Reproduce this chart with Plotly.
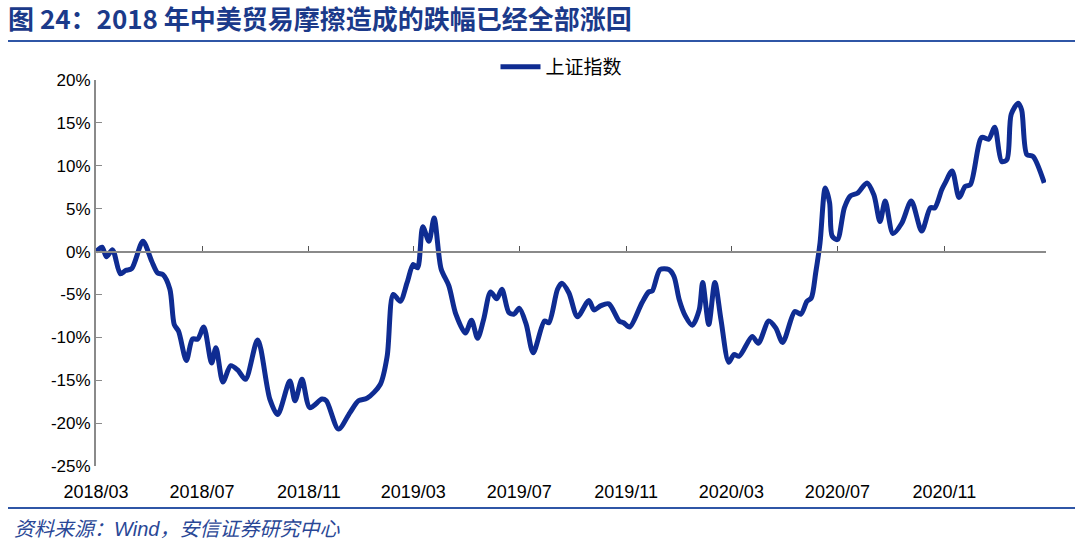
import plotly.graph_objects as go

# ---- data ----
dates = [
    "2018-03-01", "2018-03-08", "2018-03-13", "2018-03-20", "2018-03-29", "2018-04-04",
    "2018-04-11", "2018-04-24", "2018-05-04", "2018-05-11", "2018-05-17", "2018-05-25",
    "2018-05-30", "2018-06-04", "2018-06-13", "2018-06-20", "2018-06-26", "2018-07-03",
    "2018-07-12", "2018-07-17", "2018-07-25", "2018-08-03", "2018-08-11", "2018-08-20",
    "2018-09-03", "2018-09-17", "2018-09-26", "2018-10-10", "2018-10-16", "2018-10-24",
    "2018-11-02", "2018-11-16", "2018-11-21", "2018-12-05", "2018-12-18", "2018-12-28",
    "2019-01-07", "2019-01-22", "2019-01-30", "2019-02-06", "2019-02-14", "2019-02-22",
    "2019-03-01", "2019-03-06", "2019-03-12", "2019-03-19", "2019-03-25", "2019-04-02",
    "2019-04-11", "2019-04-19", "2019-04-30", "2019-05-07", "2019-05-14", "2019-05-21",
    "2019-05-29", "2019-06-05", "2019-06-11", "2019-06-19", "2019-06-25", "2019-07-01",
    "2019-07-09", "2019-07-17", "2019-07-30", "2019-08-04", "2019-08-14", "2019-08-19",
    "2019-08-27", "2019-09-06", "2019-09-19", "2019-09-25", "2019-10-03", "2019-10-12",
    "2019-10-24", "2019-10-29", "2019-11-05", "2019-11-19", "2019-11-27", "2019-12-01",
    "2019-12-10", "2019-12-20", "2019-12-26", "2020-01-01", "2020-01-08", "2020-01-16",
    "2020-01-24", "2020-01-28", "2020-02-04", "2020-02-11", "2020-02-18", "2020-02-27",
    "2020-03-04", "2020-03-10", "2020-03-25", "2020-04-01", "2020-04-13", "2020-04-21",
    "2020-04-29", "2020-05-13", "2020-05-20", "2020-05-27", "2020-06-01", "2020-06-06",
    "2020-06-11", "2020-06-17", "2020-06-22", "2020-06-25", "2020-07-01", "2020-07-09",
    "2020-07-16", "2020-07-24", "2020-08-04", "2020-08-12", "2020-08-19", "2020-08-25",
    "2020-09-03", "2020-09-13", "2020-09-24", "2020-10-06", "2020-10-16", "2020-10-21",
    "2020-10-29", "2020-11-02", "2020-11-10", "2020-11-18", "2020-11-25", "2020-12-01",
    "2020-12-14", "2020-12-22", "2020-12-29", "2021-01-06", "2021-01-12", "2021-01-17",
    "2021-01-25", "2021-01-29", "2021-02-04", "2021-02-11", "2021-02-24",
]
sh_index_pct = [
    0.0, 0.5, -0.6, 0.2, -2.6, -2.2,
    -2.0, 1.2, -1.1, -2.5, -2.7, -4.4,
    -8.5, -9.3, -12.7, -10.2, -10.2, -8.8,
    -13.0, -11.2, -15.2, -13.3, -13.8, -14.9,
    -10.3, -17.2, -19.0, -15.1, -17.4, -14.9,
    -18.2, -17.2, -17.4, -20.7, -18.8, -17.4,
    -17.1, -15.5, -12.2, -5.0, -5.8, -3.6,
    -1.5, -1.9, 2.9, 1.2, 3.9, -2.0,
    -4.0, -7.3, -9.5, -8.0, -10.1, -7.9,
    -4.7, -5.5, -4.4, -7.1, -7.3, -6.6,
    -8.5, -11.8, -8.1, -8.3, -4.4, -3.7,
    -4.8, -7.6, -5.7, -6.8, -6.3, -6.1,
    -8.1, -8.3, -8.8, -6.0, -4.7, -4.6,
    -2.1, -2.1, -2.9, -5.6, -7.5, -8.6,
    -6.8, -3.6, -8.5, -3.6, -7.9, -12.9,
    -12.0, -12.2, -9.9, -10.7, -8.1, -8.9,
    -10.6, -7.0, -7.3, -5.8, -5.4, -2.5,
    1.0, 7.4, 5.7, 1.8, 1.4, 5.1,
    6.5, 6.8, 8.0, 6.6, 3.5, 5.9,
    2.1, 3.3, 5.9, 2.4, 5.1, 5.1,
    7.2, 8.0, 9.4, 6.3, 7.6, 7.8,
    13.3, 13.1, 14.5, 10.5, 10.7, 16.0,
    17.3, 16.5, 11.3, 11.1, 8.0,
]
series_name = "上证指数"
y_tick_vals = [20, 15, 10, 5, 0, -5, -10, -15, -20, -25]
y_tick_labels = ["20%", "15%", "10%", "5%", "0%", "-5%", "-10%", "-15%", "-20%", "-25%"]
x_range = ["2018-03-01", "2021-02-26"]
x_tick_start = "2018-03-01"
title_text = "图 24：2018 年中美贸易摩擦造成的跌幅已经全部涨回"
source_text = "资料来源：<span style='font-family:Liberation Sans'>Wind</span>，安信证券研究中心"

# ---- style ----
LINE_BLUE = "#0f2c92"
AXIS_GRAY = "#8a8a8a"
TITLE_BLUE = "#1b3a8a"
RULE_BLUE = "#2f56a6"
FONT = "Liberation Sans, Arial, Noto Sans CJK SC, sans-serif"
CJK = "Noto Sans CJK SC, Liberation Sans, sans-serif"

W, H = 1080, 548
ML, MR, MT, MB = 96, 34, 80, 82
plot_w = W - ML - MR
plot_h = H - MT - MB
y_min, y_max = -25, 20
zero_pos = (0 - y_min) / (y_max - y_min)

fig = go.Figure()
fig.add_trace(go.Scatter(
    x=dates, y=sh_index_pct, name=series_name, mode="lines",
    line=dict(color=LINE_BLUE, width=5, shape="spline", smoothing=0.8),
    xaxis="x", yaxis="y",
))
# invisible helper trace so the label axis at the bottom is drawn
fig.add_trace(go.Scatter(
    x=[dates[0]], y=[None], xaxis="x2", yaxis="y", showlegend=False,
    hoverinfo="skip", mode="lines",
))


def px_to_paper_x(px):
    return (px - ML) / plot_w


def px_to_paper_y(py):
    return (H - MB - py) / plot_h


fig.update_layout(
    width=W, height=H,
    margin=dict(l=ML, r=MR, t=MT, b=MB),
    paper_bgcolor="white", plot_bgcolor="white",
    font=dict(family=FONT, size=17, color="#000000"),
    title=dict(
        text=title_text, x=8 / W, xanchor="left", xref="container",
        y=1 - 20 / H, yanchor="middle", yref="container",
        font=dict(family=CJK, size=26, color=TITLE_BLUE, weight="bold"),
    ),
    showlegend=True,
    legend=dict(
        orientation="h", x=0.49, xanchor="center", y=px_to_paper_y(67), yanchor="middle",
        font=dict(family=CJK, size=19, color="#000000"), bgcolor="rgba(0,0,0,0)",
        itemwidth=40,
    ),
    xaxis=dict(
        type="date", range=x_range, anchor="free", position=zero_pos,
        showline=True, linecolor=AXIS_GRAY, linewidth=2,
        ticks="inside", ticklen=5, tickwidth=1, tickcolor="#555555",
        tick0=x_tick_start, dtick="M4", showticklabels=False,
        showgrid=False, zeroline=False,
    ),
    xaxis2=dict(
        type="date", matches="x", overlaying="x", anchor="y", side="bottom",
        showline=False, ticks="outside", ticklen=9, tickcolor="rgba(0,0,0,0)",
        tick0=x_tick_start, dtick="M4", tickformat="%Y/%m",
        tickfont=dict(family=FONT, size=18, color="#000000"),
        showgrid=False, zeroline=False,
    ),
    yaxis=dict(
        range=[y_min, y_max], tickvals=y_tick_vals, ticktext=y_tick_labels,
        showline=True, linecolor=AXIS_GRAY, linewidth=2,
        ticks="inside", ticklen=6, tickwidth=1, tickcolor=AXIS_GRAY,
        tickfont=dict(family=FONT, size=17, color="#000000"),
        showgrid=False, zeroline=False,
    ),
    shapes=[
        dict(type="line", xref="paper", yref="paper",
             x0=px_to_paper_x(8), x1=px_to_paper_x(1075),
             y0=px_to_paper_y(41), y1=px_to_paper_y(41),
             line=dict(color=RULE_BLUE, width=2)),
        dict(type="line", xref="paper", yref="paper",
             x0=px_to_paper_x(8), x1=px_to_paper_x(1075),
             y0=px_to_paper_y(508), y1=px_to_paper_y(508),
             line=dict(color=RULE_BLUE, width=2)),
    ],
    annotations=[
        dict(text=source_text, xref="paper", yref="paper",
             x=px_to_paper_x(12), xanchor="left", y=px_to_paper_y(527), yanchor="middle",
             showarrow=False,
             font=dict(family=CJK, size=20, color="#2a4796", style="italic")),
    ],
)

fig.write_html("out.html")
